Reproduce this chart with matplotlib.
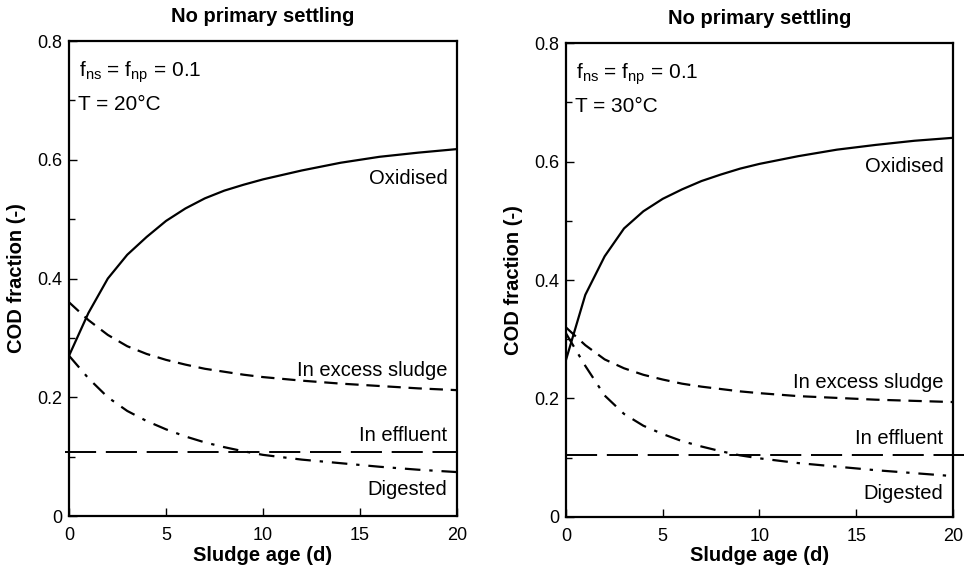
import matplotlib.pyplot as plt

plt.rcParams["font.family"] = ["Liberation Sans", "DejaVu Sans"]

# sludge age (d)
age = [0, 1, 2, 3, 4, 5, 6, 7, 8, 9, 10, 12, 14, 16, 18, 20]

# T = 20 C
oxidised_20 = [0.27, 0.342, 0.40, 0.44, 0.47, 0.497, 0.518, 0.535, 0.548, 0.558, 0.567,
               0.582, 0.595, 0.605, 0.612, 0.618]
excess_20 = [0.36, 0.33, 0.305, 0.286, 0.273, 0.263, 0.255, 0.248, 0.243, 0.238, 0.234,
             0.228, 0.223, 0.219, 0.215, 0.212]
digested_20 = [0.27, 0.232, 0.20, 0.177, 0.16, 0.146, 0.134, 0.124, 0.116, 0.109, 0.103,
               0.095, 0.089, 0.083, 0.078, 0.074]
effluent_20 = 0.107
effluent_x_20 = [-0.2, 20]

# T = 30 C
oxidised_30 = [0.265, 0.375, 0.44, 0.487, 0.516, 0.537, 0.553, 0.567, 0.578, 0.588, 0.596,
               0.609, 0.62, 0.628, 0.635, 0.64]
excess_30 = [0.32, 0.29, 0.266, 0.251, 0.24, 0.232, 0.225, 0.22, 0.216, 0.212, 0.209,
             0.204, 0.201, 0.198, 0.196, 0.194]
digested_30 = [0.31, 0.255, 0.205, 0.174, 0.154, 0.14, 0.128, 0.119, 0.111, 0.104, 0.099,
               0.091, 0.085, 0.079, 0.074, 0.069]
effluent_30 = 0.104
effluent_x_30 = [0, 20.6]

panels = [
    ([0.0716, 0.0931, 0.4025, 0.8348], "20", oxidised_20, excess_20, digested_20,
     effluent_20, effluent_x_20),
    ([0.5871, 0.0914, 0.4015, 0.8330], "30", oxidised_30, excess_30, digested_30,
     effluent_30, effluent_x_30),
]

fig = plt.figure(figsize=(9.64, 5.69), dpi=100)

for rect, temp, oxidised, excess, digested, effluent, effluent_x in panels:
    ax = fig.add_axes(rect)
    ax.plot(age, oxidised, color="black", lw=1.6)
    ax.plot(age, excess, color="black", lw=1.6, dashes=(6, 3.5))
    ax.plot(age, digested, color="black", lw=1.6, dashes=(7, 4, 1.5, 4))
    ax.plot(effluent_x, [effluent, effluent], color="black", lw=1.4, dashes=(16, 5),
            clip_on=False)

    ax.set_xlim(0, 20)
    ax.set_ylim(0, 0.8)
    ax.set_xticks([0, 5, 10, 15, 20])
    ax.set_yticks([0, 0.2, 0.4, 0.6, 0.8])
    ax.set_yticklabels(["0", "0.2", "0.4", "0.6", "0.8"])
    ax.set_yticks([0.1, 0.3, 0.5, 0.7], minor=True)
    ax.tick_params(direction="in", labelsize=13, width=1, length=6, pad=5)
    ax.tick_params(axis="x", pad=8)
    ax.tick_params(which="minor", direction="in", width=1, length=4)
    for spine in ax.spines.values():
        spine.set_linewidth(1.6)

    ax.set_title("No primary settling", fontsize=14.5, fontweight="bold", pad=14)
    ax.set_xlabel("Sludge age (d)", fontsize=14.5, fontweight="bold", labelpad=1)
    ax.set_ylabel("COD fraction (-)", fontsize=14.5, fontweight="bold", labelpad=8)

    ax.text(0.5, 0.74, r"f$_{\mathregular{ns}}$ = f$_{\mathregular{np}}$ = 0.1", fontsize=15)
    ax.text(0.45, 0.683, f"T = {temp}°C", fontsize=15)

    ax.text(19.5, oxidised[-1] - 0.058, "Oxidised", fontsize=14.5, ha="right")
    ax.text(19.5, excess[-1] + 0.023, "In excess sludge", fontsize=14.5, ha="right")
    ax.text(19.5, effluent + 0.02, "In effluent", fontsize=14.5, ha="right")
    ax.text(19.5, digested[-1] - 0.039, "Digested", fontsize=14.5, ha="right")

fig.savefig("out.png", dpi=100)
